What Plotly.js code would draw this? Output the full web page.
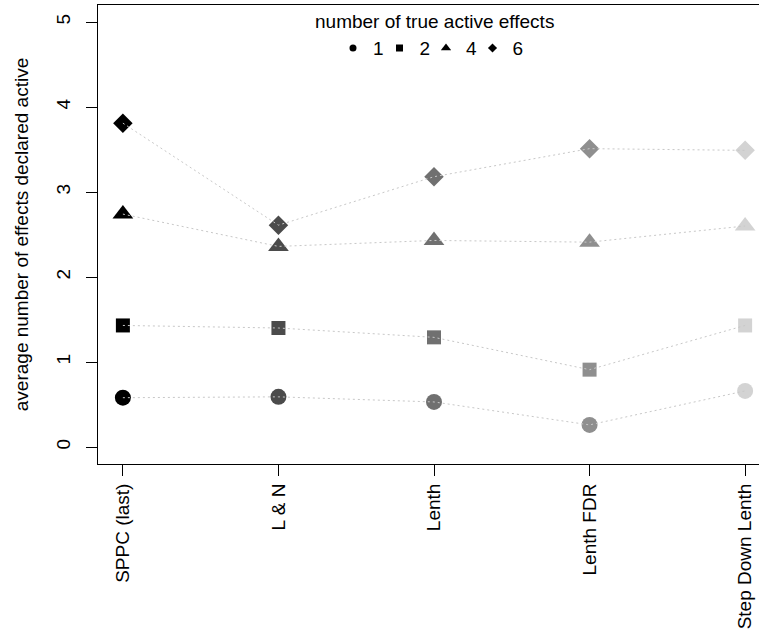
<!DOCTYPE html>
<html>
<head>
<meta charset="utf-8">
<script src="https://cdn.plot.ly/plotly-3.0.1.min.js"></script>
<style>
  html, body { margin: 0; padding: 0; overflow: hidden; background: #ffffff; }
  #chart { width: 800px; height: 637px; }
</style>
</head>
<body>
<div id="chart"></div>
<script>
// Methods compared along the x axis
var methods = ["SPPC (last)", "L & N", "Lenth", "Lenth FDR", "Step Down Lenth"];
// Grey level used for each method's markers
var methodColors = ["#000000", "#4b4b4b", "#707070", "#8f8f8f", "#d3d3d3"];

// Average number of effects declared active, by number of true active effects
var trueActive = ["1", "2", "4", "6"];
var declared1 = [0.58, 0.59, 0.53, 0.26, 0.66];
var declared2 = [1.43, 1.40, 1.29, 0.91, 1.43];
var declared4 = [2.74, 2.36, 2.43, 2.41, 2.60];
var declared6 = [3.81, 2.61, 3.18, 3.51, 3.49];

var seriesValues = [declared1, declared2, declared4, declared6];
var symbols = ["circle", "square", "triangle-up", "diamond"];
var markerSizes = [16, 14, 18, 15];
var keySizes = [7, 7, 9, 7];

var FONT = "Liberation Sans, Arial, Helvetica, sans-serif";
var traces = [];

// markers first, then the dotted connecting line on top of them
seriesValues.forEach(function (vals, i) {
  traces.push({
    type: "scatter", mode: "markers",
    x: methods, y: vals,
    marker: { symbol: symbols[i], size: markerSizes[i], color: methodColors, line: { width: 0 } },
    showlegend: false, hoverinfo: "x+y"
  });
});
seriesValues.forEach(function (vals) {
  traces.push({
    type: "scatter", mode: "lines",
    x: methods, y: vals,
    line: { color: "#c8c8c8", width: 1, dash: "2px,3px" },
    showlegend: false, hoverinfo: "skip"
  });
});

// one compact legend box per key, laid out in a single row under the key title
var legendIds = ["legend", "legend2", "legend3", "legend4"];
var legendLeft = [0.3497, 0.4189, 0.4881, 0.5573];

trueActive.forEach(function (name, i) {
  traces.push({
    type: "scatter", mode: "markers",
    x: [null], y: [null], name: name, legend: legendIds[i],
    marker: { symbol: symbols[i], size: keySizes[i], color: "#000000" },
    showlegend: true, hoverinfo: "skip"
  });
});

var layout = {
  width: 800, height: 637,
  margin: { l: 98, r: 30, t: 5, b: 173 },
  paper_bgcolor: "#ffffff", plot_bgcolor: "#ffffff",
  font: { family: FONT, size: 19, color: "#000000" },
  showlegend: true,
  annotations: [{
    text: "number of true active effects", showarrow: false,
    xref: "paper", yref: "paper", x: 0.5, y: 1, xanchor: "center", yanchor: "middle",
    yshift: -16, font: { family: FONT, size: 19, color: "#000000" }
  }],
  xaxis: {
    type: "category", categoryorder: "array", categoryarray: methods,
    range: [-0.16, 4.16],
    showline: true, linecolor: "#000000", linewidth: 1, mirror: true,
    ticks: "outside", ticklen: 11, tickwidth: 1, tickcolor: "#000000",
    tickangle: -90, showgrid: false, zeroline: false,
    tickfont: { family: FONT, size: 19, color: "#000000" }
  },
  yaxis: {
    range: [-0.2, 5.2], tickvals: [0, 1, 2, 3, 4, 5],
    showline: true, linecolor: "#000000", linewidth: 1, mirror: true,
    ticks: "outside", ticklen: 11, tickwidth: 1, tickcolor: "#000000",
    tickangle: -90, showgrid: false, zeroline: false, ticklabelstandoff: 8,
    tickfont: { family: FONT, size: 19, color: "#000000" },
    title: { text: "average number of effects declared active", standoff: 19,
             font: { family: FONT, size: 19, color: "#000000" } }
  }
};

legendIds.forEach(function (id, i) {
  layout[id] = {
    orientation: "h", x: legendLeft[i], xanchor: "left", y: 0.906, yanchor: "middle",
    bgcolor: "rgba(0,0,0,0)", borderwidth: 0, itemwidth: 30,
    font: { family: FONT, size: 19, color: "#000000" }
  };
});

Plotly.newPlot("chart", traces, layout, { displayModeBar: false, staticPlot: true });
</script>
</body>
</html>
